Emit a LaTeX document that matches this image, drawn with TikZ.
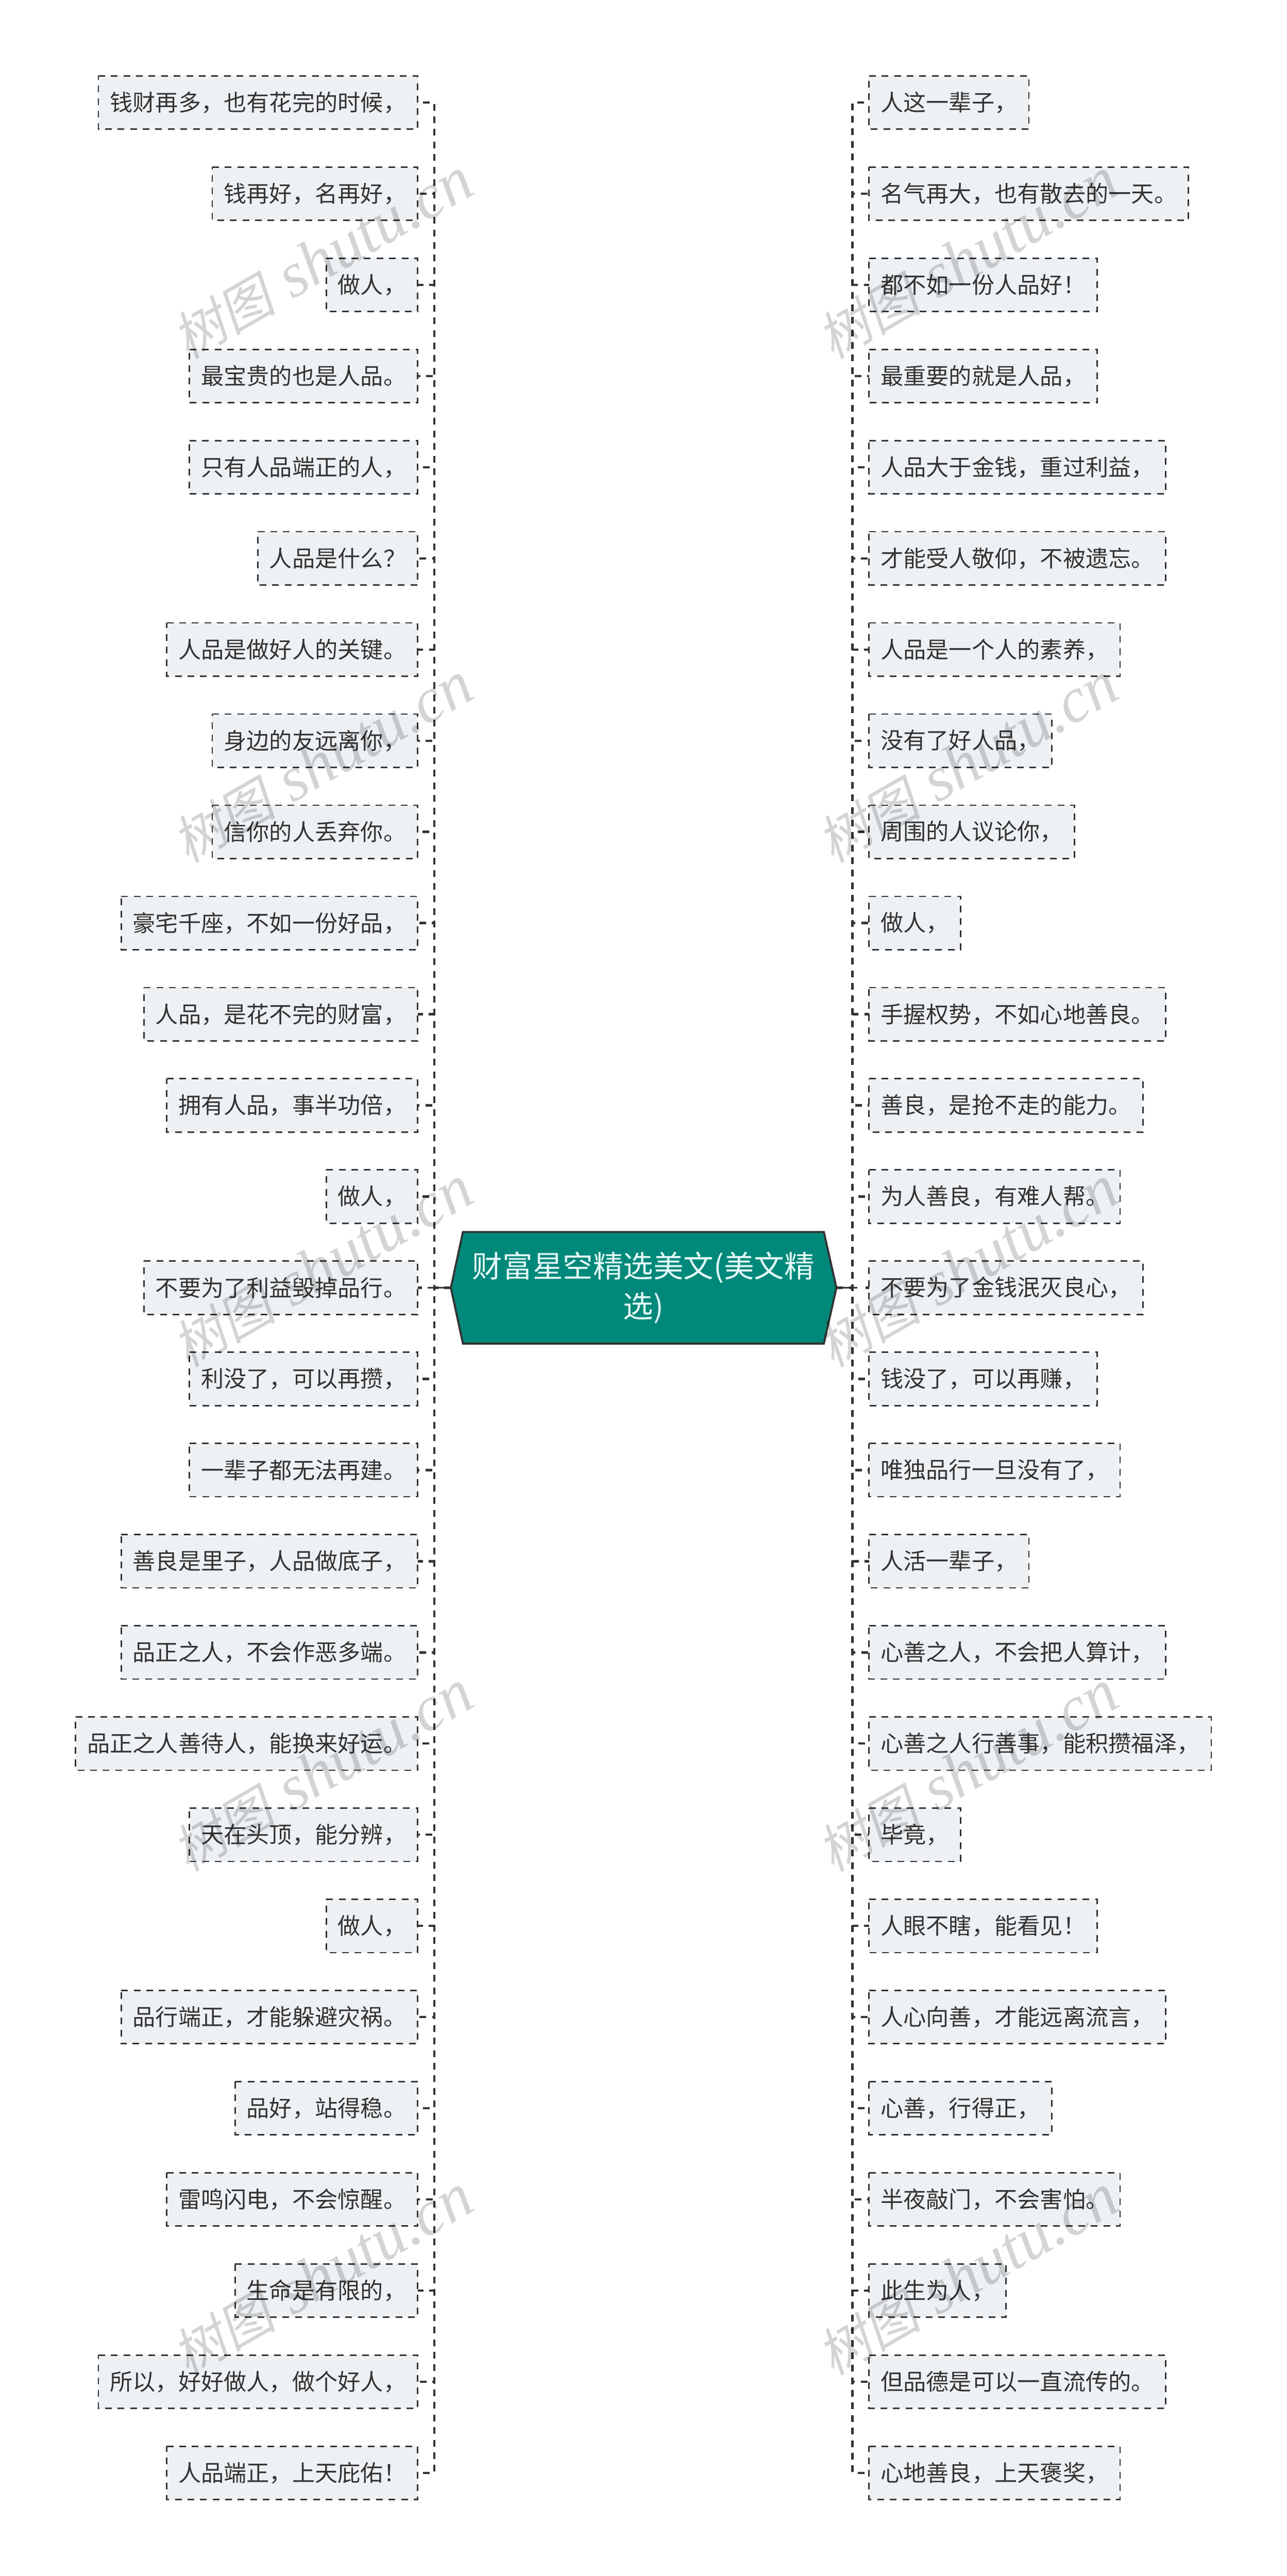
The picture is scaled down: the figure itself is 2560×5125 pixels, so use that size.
\documentclass[tikz,border=0pt]{standalone}
\usepackage{fontspec}
\setmainfont{Noto Sans CJK SC}
\newfontfamily\wmcjk[FakeSlant=0.2]{Noto Sans CJK SC}
\newfontfamily\wmlat[ItalicFont=Liberation Serif Italic]{Liberation Serif}
\definecolor{ink}{HTML}{333333}
\definecolor{leaf}{HTML}{EEF1F4}
\definecolor{rootfill}{HTML}{00897B}
\definecolor{roottext}{HTML}{E4F8F6}
\tikzset{
  leafbox/.style={fill=leaf,outer sep=0pt,minimum height=31.8pt,inner xsep=6.9pt,inner ysep=0pt,font=\fontsize{13.6pt}{18pt}\selectfont,text=ink},
  leafedge/.style={draw=ink,line width=0.85pt,dash pattern=on 4pt off 3.5pt},
  conn/.style={draw=ink,line width=1.35pt,dash pattern=on 4pt off 3.5pt},
  rootline/.style={draw=ink,line width=1.2pt},
  roothex/.style={draw=ink,fill=rootfill,line width=1.2pt,line join=miter},
  roottitle/.style={align=center,text=roottext,font=\fontsize{18pt}{24pt}\selectfont,inner sep=0pt},
  wmark/.style={rotate=30,text=black,opacity=0.17,inner sep=0pt}
}
\newcommand{\wmtext}{{\wmcjk\fontsize{31pt}{31pt}\selectfont 树图}\hspace{10pt}{\wmlat\itshape\fontsize{38pt}{38pt}\selectfont shutu.cn}}
\begin{document}
\begin{tikzpicture}[x=0.3pt,y=-0.3pt]
\useasboundingbox (0,0) rectangle (2560,5125);
\fill[white] (0,0) rectangle (2560,5125);
\coordinate (hexL) at (897,2562);
\coordinate (hexR) at (1664,2562);
\coordinate (spL) at (864,2562);
\coordinate (spR) at (1696,2562);
% left leaves
\foreach \i/\t in {1/钱财再多，也有花完的时候，,2/钱再好，名再好，,3/做人，,4/最宝贵的也是人品。,5/只有人品端正的人，,6/人品是什么？,7/人品是做好人的关键。,8/身边的友远离你，,9/信你的人丢弃你。,10/豪宅千座，不如一份好品，,11/人品，是花不完的财富，,12/拥有人品，事半功倍，,13/做人，,14/不要为了利益毁掉品行。,15/利没了，可以再攒，,16/一辈子都无法再建。,17/善良是里子，人品做底子，,18/品正之人，不会作恶多端。,19/品正之人善待人，能换来好运。,20/天在头顶，能分辨，,21/做人，,22/品行端正，才能躲避灾祸。,23/品好，站得稳。,24/雷鸣闪电，不会惊醒。,25/生命是有限的，,26/所以，好好做人，做个好人，,27/人品端正，上天庇佑！}
  { \node[leafbox,anchor=east] (L\i) at (831,{204+(\i-1)*181.38}) {\t};
    \draw[leafedge] (L\i.north west) -- (L\i.north east) -- (L\i.south east) -- (L\i.south west) -- cycle; }
% right leaves
\foreach \i/\t in {1/人这一辈子，,2/名气再大，也有散去的一天。,3/都不如一份人品好！,4/最重要的就是人品，,5/人品大于金钱，重过利益，,6/才能受人敬仰，不被遗忘。,7/人品是一个人的素养，,8/没有了好人品，,9/周围的人议论你，,10/做人，,11/手握权势，不如心地善良。,12/善良，是抢不走的能力。,13/为人善良，有难人帮。,14/不要为了金钱泯灭良心，,15/钱没了，可以再赚，,16/唯独品行一旦没有了，,17/人活一辈子，,18/心善之人，不会把人算计，,19/心善之人行善事，能积攒福泽，,20/毕竟，,21/人眼不瞎，能看见！,22/人心向善，才能远离流言，,23/心善，行得正，,24/半夜敲门，不会害怕。,25/此生为人，,26/但品德是可以一直流传的。,27/心地善良，上天褒奖，}
  { \node[leafbox,anchor=west] (R\i) at (1729,{204+(\i-1)*181.38}) {\t};
    \draw[leafedge] (R\i.north west) -- (R\i.north east) -- (R\i.south east) -- (R\i.south west) -- cycle; }
% connectors
\foreach \i in {1,...,13,15,16,...,27}{
  \draw[conn] (hexL) -- (spL) -- (spL |- L\i.east) -- (L\i.east);
  \draw[conn] (hexR) -- (spR) -- (spR |- R\i.west) -- (R\i.west);
}
\draw[rootline] (hexL) -- ++(-46,0) coordinate (endL);
\draw[rootline] (hexR) -- ++(42,0) coordinate (endR);
\draw[conn,dash pattern=on 2.7pt off 1pt] ([xshift=2.4pt]L14.east) -- (L14.east);
\draw[conn,dash pattern=on 2.7pt off 1pt] ([xshift=-2.1pt]R14.west) -- (R14.west);
% root
\draw[roothex] (921,2451) -- (1639,2451) -- (hexR) -- (1639,2673) -- (921,2673) -- (hexL) -- cycle;
\node[roottitle,text width=216pt] (root) at (1280,2562) {财富星空精选美文(美文精\\选)};
% watermark
\foreach \r in {0,...,4}{
  \node[wmark] (wmA\r) at (642,{515+\r*1003}) {\wmtext};
  \node[wmark] (wmB\r) at (1925,{515+\r*1003}) {\wmtext};
}
\end{tikzpicture}
\end{document}
